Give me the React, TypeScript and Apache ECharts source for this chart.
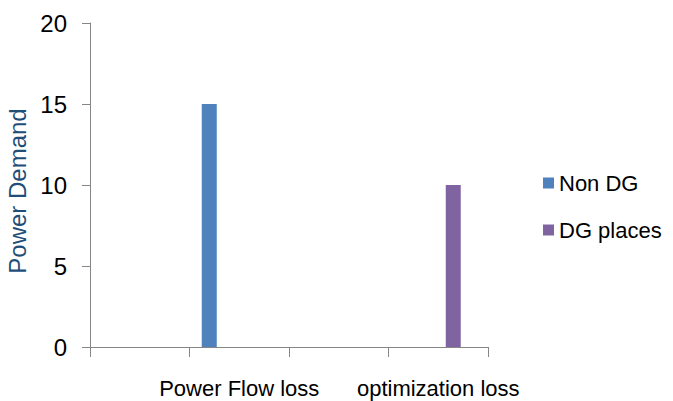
import React, { useEffect, useRef } from "react";
import * as echarts from "echarts";

const categories = ["", "Power Flow loss", "", "optimization loss"];
const nonDG = [null, 15, null, null];
const dgPlaces = [null, null, null, 10];
const yTicks = { min: 0, max: 20, interval: 5 };

export default function App() {
  const ref = useRef<HTMLDivElement>(null);
  useEffect(() => {
    document.body.style.margin = "0";
    document.body.style.overflow = "hidden";
    if (!ref.current) return;
    const chart = echarts.init(ref.current, undefined, { renderer: "svg" });
    const font = "Liberation Sans";
    const axisGray = "#868686";
    const spacer = (name: string) => ({
      name,
      type: "bar",
      data: [] as any[],
      barWidth: 15,
      barGap: "0%",
      silent: true,
    });
    chart.setOption({
      animation: false,
      backgroundColor: "#ffffff",
      textStyle: { fontFamily: font },
      grid: { left: 90, right: 185, top: 23, bottom: 54, containLabel: false, outerBoundsMode: "none" },
      legend: {
        data: ["Non DG", "DG places"],
        orient: "vertical",
        left: 538,
        top: 167,
        itemWidth: 11,
        itemHeight: 11,
        itemGap: 25,
        icon: "rect",
        textStyle: { fontSize: 22, color: "#000", fontFamily: font, lineHeight: 22 },
      },
      xAxis: {
        type: "category",
        data: categories,
        boundaryGap: true,
        axisLine: { lineStyle: { color: axisGray, width: 1 } },
        axisTick: { show: true, interval: 0, length: 10, lineStyle: { color: axisGray } },
        axisLabel: { interval: 0, fontSize: 22, color: "#000", margin: 30, fontFamily: font },
        splitLine: { show: false },
      },
      yAxis: {
        type: "value",
        min: yTicks.min,
        max: yTicks.max,
        interval: yTicks.interval,
        name: "Power Demand",
        nameLocation: "middle",
        nameGap: 56,
        nameTextStyle: { fontSize: 24, color: "#1F4E79", fontFamily: font, padding: [0, 12, 0, 0] },
        axisLine: { show: true, lineStyle: { color: axisGray, width: 1 } },
        axisTick: { show: true, length: 8, lineStyle: { color: axisGray } },
        axisLabel: { fontSize: 24, color: "#000", margin: 23, fontFamily: font },
        splitLine: { show: false },
      },
      series: [
        { name: "Non DG", type: "bar", data: nonDG, barWidth: 15, barGap: "0%", itemStyle: { color: "#4F81BD" } },
        spacer("_s1"),
        spacer("_s2"),
        { name: "DG places", type: "bar", data: dgPlaces, barWidth: 15, barGap: "0%", itemStyle: { color: "#8064A2" } },
        spacer("_s3"),
      ],
    });
    return () => chart.dispose();
  }, []);
  return <div ref={ref} style={{ width: 673, height: 401 }} />;
}
